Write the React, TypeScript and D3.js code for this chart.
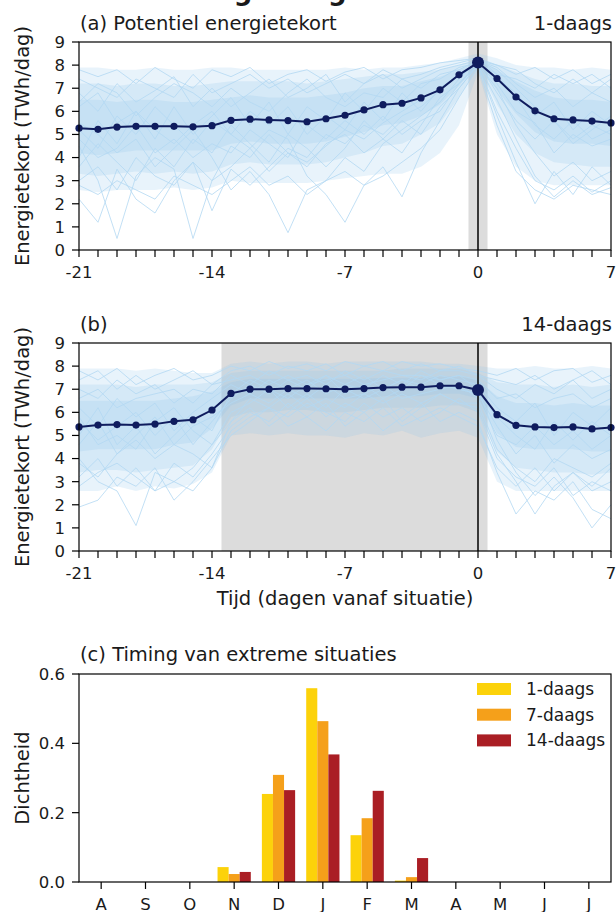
import React from "react";
import * as d3 from "d3";

// ---------- data ----------
const days = [-21,-20,-19,-18,-17,-16,-15,-14,-13,-12,-11,-10,-9,-8,-7,-6,-5,-4,-3,-2,-1,0,1,2,3,4,5,6,7];
const xTickLabels = [-21, -14, -7, 0, 7];
const yTicks = [0,1,2,3,4,5,6,7,8,9];

// panel (a) 1-daags
const meanA = [5.27,5.22,5.32,5.35,5.35,5.35,5.33,5.38,5.61,5.66,5.63,5.60,5.55,5.68,5.83,6.06,6.29,6.35,6.58,6.93,7.58,8.11,7.42,6.62,6.02,5.68,5.63,5.58,5.50];
const highA = [7.9,7.9,7.8,7.8,7.9,7.8,7.8,7.9,7.9,7.8,7.8,7.8,7.8,7.8,7.9,7.8,7.9,7.9,8.0,8.1,8.3,8.5,8.3,8.0,7.9,7.9,7.8,7.9,7.8];
const q90A = [7.2,7.2,7.1,7.2,7.2,7.1,7.1,7.2,7.3,7.3,7.3,7.3,7.2,7.3,7.4,7.5,7.6,7.6,7.7,7.8,8.0,8.3,8.0,7.7,7.4,7.2,7.2,7.1,7.1];
const q75A = [6.5,6.5,6.4,6.5,6.5,6.4,6.4,6.5,6.6,6.7,6.6,6.6,6.6,6.7,6.8,7.0,7.1,7.1,7.3,7.5,7.8,8.2,7.8,7.3,6.9,6.6,6.5,6.5,6.4];
const q25A = [4.2,4.1,4.2,4.3,4.3,4.3,4.3,4.3,4.6,4.7,4.6,4.6,4.6,4.7,4.9,5.1,5.4,5.5,5.8,6.3,7.1,8.0,6.9,5.9,5.1,4.7,4.6,4.6,4.5];
const q10A = [3.3,3.2,3.3,3.4,3.3,3.4,3.3,3.4,3.7,3.8,3.7,3.7,3.7,3.8,4.0,4.2,4.5,4.6,5.0,5.5,6.6,7.9,6.3,5.0,4.2,3.8,3.7,3.6,3.6];
const lowA = [2.6,2.5,2.6,2.6,2.6,2.7,2.6,2.7,3.0,2.9,2.9,2.9,2.9,3.0,3.1,3.2,3.3,3.3,3.6,4.2,5.4,7.7,5.0,3.6,3.0,2.8,2.8,2.8,2.8];
const eventA1 = [4.5,3.0,0.5,3.2,4.0,3.5,0.5,3.0,4.5,4.0,5.0,4.2,3.8,4.5,5.2,4.8,5.5,6.0,6.5,7.0,7.5,8.1,7.2,6.0,5.5,4.2,5.0,4.5,4.8];
const eventA2 = [2.2,1.2,3.5,2.2,1.6,3.0,3.8,1.7,3.5,2.8,3.6,4.4,4.0,5.0,4.6,5.4,5.0,5.8,6.2,6.9,7.6,8.0,6.5,4.8,3.2,2.3,3.0,2.4,2.7];
const eventA3 = [5.5,5.0,4.2,4.8,3.6,4.4,5.2,4.0,2.6,3.4,2.4,0.75,2.6,3.0,4.0,3.4,4.6,5.2,5.8,6.4,7.4,8.2,7.8,7.0,6.2,5.6,4.8,5.4,5.0];
const eventA4 = [6.2,6.8,5.5,6.0,5.2,4.6,5.4,6.0,5.0,4.4,5.2,4.8,3.2,2.4,1.2,2.8,3.6,2.3,4.2,5.6,7.0,8.0,6.0,4.4,3.0,2.6,3.2,2.5,3.0];
const eventA5 = [7.8,7.5,7.8,7.2,7.9,7.4,7.0,7.8,7.5,7.9,7.2,7.6,7.8,7.3,7.7,7.9,7.4,7.8,7.9,8.1,8.2,8.3,8.0,7.6,7.9,7.4,7.8,7.2,7.6];
const eventA6 = [4.0,5.6,4.6,6.0,4.8,6.2,5.0,5.8,6.6,5.4,6.4,5.0,6.2,5.6,6.8,6.0,7.0,6.4,7.2,7.4,7.9,8.1,7.4,6.8,5.8,6.4,5.2,6.0,5.4];
const eventA7 = [3.0,3.6,2.6,4.0,3.2,2.8,3.8,3.0,3.6,4.4,3.4,4.2,3.6,4.6,5.0,4.2,4.8,5.6,5.0,6.2,7.0,8.0,5.8,3.8,2.0,3.4,2.4,3.6,2.8];
const eventA8 = [6.8,6.0,7.2,6.4,6.9,7.5,6.2,7.0,6.2,6.8,7.4,6.6,7.0,7.6,6.4,7.2,7.6,7.0,7.4,7.8,8.0,8.2,7.9,7.2,6.6,7.0,6.2,6.8,7.4];
const eventA9 = [5.2,4.4,5.8,5.0,6.2,5.4,4.6,5.6,5.0,6.0,5.4,6.2,5.0,5.8,5.2,6.4,5.6,6.8,6.0,7.0,7.6,8.1,6.8,5.6,4.8,5.6,4.6,5.2,5.8];
const eventA10 = [3.6,4.6,3.8,3.0,4.4,3.6,4.8,4.2,5.4,4.6,3.8,5.0,4.4,3.6,4.4,5.6,4.8,4.2,5.4,6.6,7.2,8.0,7.0,5.4,4.2,3.2,3.8,3.0,3.4];
const eventA11 = [7.4,7.0,6.6,7.4,7.0,6.6,7.6,6.8,7.2,7.6,7.0,7.4,6.8,7.2,7.6,7.2,7.8,7.4,7.6,7.9,8.1,8.3,7.6,7.4,7.0,7.6,7.2,7.6,7.0];
const eventA12 = [2.8,2.4,3.0,2.6,2.2,3.2,2.8,2.4,3.0,3.6,2.8,3.2,2.4,3.0,3.4,2.8,3.2,3.8,4.4,5.2,6.6,7.9,5.4,3.4,2.6,2.2,2.8,2.6,2.4];
const eventA13 = [6.4,7.2,6.8,5.8,6.6,7.2,6.8,6.2,7.0,6.4,6.0,6.8,7.4,6.6,6.2,6.8,6.6,7.4,7.0,7.6,7.8,8.2,8.0,7.8,7.2,6.8,7.4,6.8,6.4];
const eventA14 = [4.8,4.0,4.4,5.4,4.2,4.8,4.0,4.6,4.2,5.2,4.6,4.0,5.4,4.8,5.6,5.0,5.8,5.0,5.6,6.0,7.2,8.1,7.6,6.6,5.4,4.8,5.6,4.8,5.2];

// panel (b) 14-daags
const meanB = [5.37,5.45,5.47,5.45,5.49,5.61,5.68,6.10,6.82,7.00,7.00,7.03,7.03,7.02,7.00,7.03,7.07,7.09,7.09,7.15,7.15,6.97,5.90,5.44,5.37,5.34,5.37,5.28,5.34];
const highB = [7.9,7.9,7.9,7.8,7.9,7.8,7.7,7.7,8.1,8.2,8.1,8.2,8.2,8.1,8.2,8.2,8.2,8.2,8.2,8.1,8.1,8.0,7.9,7.9,8.0,7.9,7.9,8.0,7.9];
const q90B = [7.2,7.2,7.2,7.1,7.2,7.2,7.2,7.3,7.7,7.8,7.8,7.8,7.8,7.8,7.8,7.8,7.8,7.9,7.9,7.9,7.9,7.7,7.3,7.2,7.2,7.1,7.2,7.1,7.2];
const q75B = [6.5,6.5,6.5,6.5,6.5,6.6,6.7,6.9,7.3,7.45,7.45,7.45,7.45,7.45,7.45,7.45,7.5,7.5,7.5,7.55,7.55,7.4,6.7,6.4,6.4,6.3,6.4,6.3,6.3];
const q25B = [4.3,4.4,4.4,4.4,4.4,4.6,4.7,5.3,6.3,6.6,6.6,6.6,6.6,6.6,6.6,6.6,6.7,6.7,6.7,6.8,6.8,6.6,5.1,4.5,4.4,4.4,4.4,4.3,4.3];
const q10B = [3.4,3.5,3.5,3.4,3.5,3.6,3.7,4.4,5.8,6.0,6.0,6.1,6.1,6.0,6.0,6.1,6.2,6.2,6.2,6.3,6.3,6.0,4.3,3.6,3.5,3.4,3.4,3.3,3.4];
const lowB = [2.6,2.6,2.8,2.6,2.8,2.7,2.9,3.4,5.0,5.1,5.0,5.1,5.0,5.0,4.9,5.1,5.0,5.2,4.9,5.1,5.2,4.9,3.0,2.6,2.6,2.6,2.6,2.6,2.6];
const eventB1 = [4.0,3.0,2.6,1.1,3.4,3.0,3.6,4.6,5.6,6.2,5.4,6.0,6.6,5.8,6.4,6.0,6.6,5.6,6.2,6.8,6.4,6.2,4.2,3.0,1.6,2.8,3.4,2.6,3.0];
const eventB2 = [1.9,2.2,3.2,2.8,3.6,2.2,3.0,4.0,5.0,5.6,6.2,5.4,5.8,6.4,5.4,6.0,5.2,5.8,6.4,5.6,6.0,5.6,3.4,1.6,2.6,2.2,3.0,1.8,1.4];
const eventB3 = [5.6,4.8,5.4,6.0,5.0,5.8,4.6,5.6,6.6,7.2,6.8,7.4,7.0,7.6,7.2,7.0,7.6,7.2,7.8,7.4,7.6,7.0,4.8,3.4,2.4,3.2,2.3,1.0,2.0];
const eventB4 = [7.8,7.4,7.9,7.2,7.6,7.9,7.4,7.6,8.0,7.8,8.2,7.9,8.1,7.8,8.2,8.0,7.8,8.2,8.0,8.1,7.9,7.8,7.6,7.9,7.4,7.8,7.9,7.3,7.6];
const eventB5 = [6.2,5.4,6.6,5.8,6.4,5.2,6.0,6.6,7.2,6.8,7.4,7.0,7.4,6.8,7.2,7.6,7.0,7.4,7.2,7.6,7.4,7.2,6.2,5.6,6.4,5.0,6.0,5.4,6.2];
const eventB6 = [3.2,4.0,2.8,3.6,2.6,3.8,3.2,4.2,5.4,6.0,5.6,6.4,5.8,5.2,6.0,5.6,6.2,5.4,5.8,6.2,5.8,5.4,3.6,2.8,3.6,2.6,3.4,2.8,3.6];
const eventB7 = [5.0,6.2,4.6,5.4,4.2,5.0,5.8,5.2,6.8,7.4,7.0,6.6,7.2,7.6,6.8,7.2,6.6,7.0,7.6,7.2,7.0,6.8,5.4,4.2,5.0,3.8,4.6,4.0,4.4];
const eventB8 = [7.0,6.6,7.4,6.8,7.2,6.4,7.0,6.8,7.6,7.2,7.8,7.4,7.6,7.2,7.8,7.4,7.8,7.6,7.4,7.8,7.8,7.6,7.0,6.6,7.2,6.8,7.4,6.6,7.0];
const eventB9 = [4.6,5.6,4.2,5.0,5.8,4.6,5.4,5.8,6.4,6.8,6.4,7.0,6.6,7.2,6.6,6.8,7.2,6.6,6.8,7.0,7.2,6.6,5.0,4.6,5.4,4.6,5.2,4.4,5.0];
const eventB10 = [2.8,3.4,3.8,3.2,2.6,3.0,2.6,3.6,5.2,5.8,6.2,5.8,6.4,6.0,5.6,6.4,5.8,6.2,5.6,6.0,6.6,6.0,4.0,3.2,2.8,3.6,2.4,3.0,2.6];
const eventB11 = [7.4,7.8,7.0,7.6,7.0,7.4,7.8,7.2,7.8,8.0,7.6,8.0,7.8,8.1,7.6,8.0,8.2,7.8,8.1,7.8,8.0,7.6,7.4,7.2,7.6,7.0,7.4,7.8,7.2];
const eventB12 = [3.8,3.2,4.2,4.8,4.0,4.6,4.2,3.6,5.6,6.6,6.2,6.8,6.2,6.6,6.2,6.8,6.4,6.8,6.4,6.8,6.4,6.4,4.4,3.6,3.0,4.0,3.6,3.2,3.8];
const eventB13 = [6.6,7.0,6.2,6.6,6.8,7.0,6.4,7.2,7.4,7.6,7.2,7.6,7.2,7.4,7.6,7.2,7.4,7.6,7.6,7.4,7.6,7.4,6.6,6.8,6.2,6.6,6.8,6.2,6.6];
const eventB14 = [5.8,4.6,5.0,4.4,5.6,6.2,5.2,4.6,6.0,6.4,7.0,6.2,6.8,6.2,7.0,6.6,7.0,7.4,7.0,7.2,7.0,6.8,5.8,5.0,4.4,5.6,4.8,5.6,5.0];

// panel (c)
const months = ["A","S","O","N","D","J","F","M","A","M","J","J"];
const seriesNames = ["1-daags","7-daags","14-daags"];
const dens1 = [0,0,0,0.043,0.254,0.559,0.135,0.004,0,0,0,0];
const dens7 = [0,0,0,0.023,0.309,0.464,0.184,0.014,0,0,0,0];
const dens14 = [0,0,0,0.029,0.265,0.368,0.263,0.069,0,0,0,0];
const densTicks = [0, 0.2, 0.4, 0.6];

// ---------- styles ----------
const FONT = "DejaVu Sans, sans-serif";
const TICK_FS = 16.5;
const LAB_FS = 19.5;
const BLUE = "#8cc4ec";
const LINE_BLUE = "#b3d8f3";
const NAVY = "#0f1c5e";
const GREY = "#dcdcdc";
const BAR_COLORS = ["#fcd20a", "#f5a01a", "#aa1e24"];

const L = 79, R = 611;
const x = d3.scaleLinear().domain([-21, 7]).range([L, R]);

type PanelProps = {
  top: number; bottom: number; span: [number, number];
  mean: number[]; bands: number[][]; events: number[][];
  label: string; rightLabel: string; showXLabel: boolean;
};

function TimePanel(p: PanelProps) {
  const y = d3.scaleLinear().domain([0, 9]).range([p.bottom, p.top]);
  const area = (lo: number[], hi: number[]) =>
    d3.area<number>().x((_, i) => x(days[i])).y0((_, i) => y(lo[i])).y1((_, i) => y(hi[i]))(days) || "";
  const line = (v: number[]) => d3.line<number>().x((_, i) => x(days[i])).y((d) => y(d))(v) || "";
  const [low, q10, q25, q75, q90, high] = p.bands;
  const midY = (p.top + p.bottom) / 2;
  return (
    <g>
      <rect x={x(p.span[0])} y={p.top} width={x(p.span[1]) - x(p.span[0])} height={p.bottom - p.top} fill={GREY} />
      <path d={area(low, high)} fill={BLUE} fillOpacity={0.2} />
      <path d={area(q10, q90)} fill={BLUE} fillOpacity={0.2} />
      <path d={area(q25, q75)} fill={BLUE} fillOpacity={0.2} />
      {p.events.map((ev, i) => (
        <path key={i} d={line(ev)} fill="none" stroke={LINE_BLUE} strokeOpacity={0.8} strokeWidth={1} />
      ))}
      <line x1={x(0)} x2={x(0)} y1={p.top} y2={p.bottom} stroke="#000" strokeWidth={1.5} />
      <path d={line(p.mean)} fill="none" stroke={NAVY} strokeWidth={2} />
      {p.mean.map((v, i) => (
        <circle key={i} cx={x(days[i])} cy={y(v)} r={days[i] === 0 ? 6 : 3.6} fill={NAVY} />
      ))}
      <rect x={L} y={p.top} width={R - L} height={p.bottom - p.top} fill="none" stroke="#000" strokeWidth={1.2} />
      {days.map((d) => (
        <line key={d} x1={x(d)} x2={x(d)} y1={p.bottom} y2={p.bottom + 7} stroke="#000" strokeWidth={1.2} />
      ))}
      {xTickLabels.map((d) => (
        <text key={d} x={x(d)} y={p.bottom + 28} textAnchor="middle" fontSize={TICK_FS}>{d}</text>
      ))}
      {yTicks.map((t) => (
        <g key={t}>
          <line x1={L - 7} x2={L} y1={y(t)} y2={y(t)} stroke="#000" strokeWidth={1.2} />
          <text x={L - 14} y={y(t)} dy="0.36em" textAnchor="end" fontSize={TICK_FS}>{t}</text>
        </g>
      ))}
      <text x={22} y={midY} transform={`rotate(-90 22 ${midY})`} textAnchor="middle" dy="0.36em" fontSize={LAB_FS}>
        Energietekort (TWh/dag)
      </text>
      <text x={80} y={p.top - 12} fontSize={LAB_FS}>{p.label}</text>
      <text x={612} y={p.top - 12} textAnchor="end" fontSize={LAB_FS}>{p.rightLabel}</text>
      {p.showXLabel && (
        <text x={(L + R) / 2} y={p.bottom + 54} textAnchor="middle" fontSize={LAB_FS}>Tijd (dagen vanaf situatie)</text>
      )}
    </g>
  );
}

function BarPanel() {
  const top = 674, bottom = 882;
  const xb = d3.scaleBand<number>().domain(months.map((_, i) => i)).range([L, R]).padding(0);
  const bw = xb.bandwidth();
  const inner = d3.scaleBand<number>().domain([0, 1, 2]).range([0, bw * 0.75]);
  const y = d3.scaleLinear().domain([0, 0.6]).range([bottom, top]);
  const series = [dens1, dens7, dens14];
  const midY = (top + bottom) / 2;
  return (
    <g>
      {series.map((s, si) =>
        s.map((v, mi) => (
          <rect key={`${si}-${mi}`} x={(xb(mi) as number) + bw * 0.125 + (inner(si) as number)} y={y(v)}
            width={inner.bandwidth()} height={bottom - y(v)} fill={BAR_COLORS[si]} />
        ))
      )}
      <rect x={L} y={top} width={R - L} height={bottom - top} fill="none" stroke="#000" strokeWidth={1.2} />
      {months.map((m, i) => {
        const cx = (xb(i) as number) + bw / 2;
        return (
          <g key={i}>
            <line x1={cx} x2={cx} y1={bottom} y2={bottom + 7} stroke="#000" strokeWidth={1.2} />
            <text x={cx} y={bottom + 28} textAnchor="middle" fontSize={TICK_FS}>{m}</text>
          </g>
        );
      })}
      {densTicks.map((t) => (
        <g key={t}>
          <line x1={L - 7} x2={L} y1={y(t)} y2={y(t)} stroke="#000" strokeWidth={1.2} />
          <text x={L - 14} y={y(t)} dy="0.36em" textAnchor="end" fontSize={TICK_FS}>{t.toFixed(1)}</text>
        </g>
      ))}
      <text x={22} y={midY} transform={`rotate(-90 22 ${midY})`} textAnchor="middle" dy="0.36em" fontSize={LAB_FS}>Dichtheid</text>
      <text x={80} y={top - 13} fontSize={LAB_FS}>(c) Timing van extreme situaties</text>
      {seriesNames.map((n, i) => (
        <g key={n}>
          <rect x={477} y={683 + i * 25.7} width={34} height={12} fill={BAR_COLORS[i]} />
          <text x={526} y={695 + i * 25.7} fontSize={17}>{n}</text>
        </g>
      ))}
    </g>
  );
}

export default function App() {
  return (
    <svg width={616} height={912} style={{ position: "absolute", left: 0, top: 0, background: "#fff" }}
      fontFamily={FONT} fill="#1a1a1a">
      <rect x={0} y={0} width={616} height={912} fill="#fff" />
      <text x={60} y={0} fontSize={26} fontWeight="bold">Ontwikkeling energietekort</text>
      <TimePanel top={42} bottom={250} span={[-0.5, 0.5]} mean={meanA}
        bands={[lowA, q10A, q25A, q75A, q90A, highA]}
        events={[eventA1, eventA2, eventA3, eventA4, eventA5, eventA6, eventA7, eventA8, eventA9, eventA10, eventA11, eventA12, eventA13, eventA14]}
        label="(a) Potentiel energietekort" rightLabel="1-daags" showXLabel={false} />
      <TimePanel top={343} bottom={551} span={[-13.5, 0.5]} mean={meanB}
        bands={[lowB, q10B, q25B, q75B, q90B, highB]}
        events={[eventB1, eventB2, eventB3, eventB4, eventB5, eventB6, eventB7, eventB8, eventB9, eventB10, eventB11, eventB12, eventB13, eventB14]}
        label="(b)" rightLabel="14-daags" showXLabel={true} />
      <BarPanel />
    </svg>
  );
}
